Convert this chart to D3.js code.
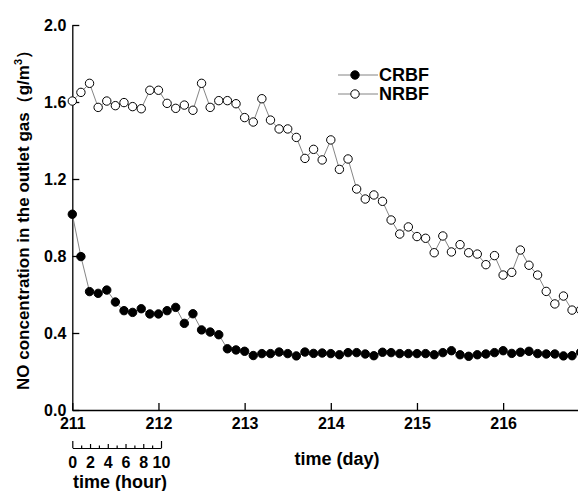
<!DOCTYPE html>
<html>
<head>
<meta charset="utf-8">
<script src="https://cdn.jsdelivr.net/npm/d3@7"></script>
<style>
  html, body { margin: 0; padding: 0; background: #fff; overflow: hidden; }
  svg text { font-family: "Liberation Sans", Arial, sans-serif; font-weight: bold; fill: #000; }
</style>
</head>
<body>
<svg id="chart"></svg>
<script>
// sampling times (day), one point every 0.1 day
const time = [
  211.0, 211.1, 211.2, 211.3, 211.4, 211.5, 211.6, 211.7, 211.8, 211.9,
  212.0, 212.1, 212.2, 212.3, 212.4, 212.5, 212.6, 212.7, 212.8, 212.9,
  213.0, 213.1, 213.2, 213.3, 213.4, 213.5, 213.6, 213.7, 213.8, 213.9,
  214.0, 214.1, 214.2, 214.3, 214.4, 214.5, 214.6, 214.7, 214.8, 214.9,
  215.0, 215.1, 215.2, 215.3, 215.4, 215.5, 215.6, 215.7, 215.8, 215.9,
  216.0, 216.1, 216.2, 216.3, 216.4, 216.5, 216.6, 216.7, 216.8, 216.9
];

const crbf = [
  1.017, 0.797, 0.615, 0.606, 0.623, 0.561, 0.516, 0.507, 0.526, 0.499,
  0.499, 0.516, 0.533, 0.450, 0.500, 0.416, 0.405, 0.391, 0.318, 0.312,
  0.305, 0.283, 0.293, 0.293, 0.301, 0.293, 0.281, 0.301, 0.294, 0.296,
  0.293, 0.287, 0.298, 0.298, 0.291, 0.282, 0.300, 0.298, 0.293, 0.293,
  0.293, 0.293, 0.287, 0.298, 0.308, 0.287, 0.279, 0.287, 0.291, 0.298,
  0.308, 0.294, 0.300, 0.305, 0.293, 0.291, 0.291, 0.281, 0.282, 0.300
];

const nrbf = [
  1.605, 1.650, 1.697, 1.572, 1.605, 1.581, 1.597, 1.576, 1.565, 1.661,
  1.661, 1.593, 1.567, 1.584, 1.557, 1.697, 1.572, 1.607, 1.607, 1.591,
  1.519, 1.496, 1.617, 1.506, 1.460, 1.460, 1.416, 1.307, 1.354, 1.299,
  1.403, 1.250, 1.304, 1.148, 1.096, 1.117, 1.084, 0.987, 0.914, 0.951,
  0.901, 0.892, 0.817, 0.904, 0.821, 0.859, 0.817, 0.810, 0.755, 0.802,
  0.701, 0.715, 0.831, 0.752, 0.701, 0.616, 0.551, 0.592, 0.519, 0.520
];

const dayTicks = [211, 212, 213, 214, 215, 216];
const yTicks = [0.0, 0.4, 0.8, 1.2, 1.6, 2.0];
const hourTicks = [0, 1, 2, 3, 4, 5, 6, 7, 8, 9, 10];

const width = 578, height = 491;

const svg = d3.select('#chart')
  .attr('width', width)
  .attr('height', height);

// Scales
const x = d3.scaleLinear().domain([211, 217]).range([72.3, 589.3]);
const y = d3.scaleLinear().domain([0, 2]).range([410, 25]);
const xHour = d3.scaleLinear().domain([0, 10]).range([72.3, 161]);

// Y axis (ticks pointing inward)
const yAxis = svg.append('g')
  .attr('transform', `translate(${x(211)},0)`)
  .call(d3.axisLeft(y).tickValues(yTicks).tickFormat(d3.format('.1f'))
    .tickSizeInner(-7).tickSizeOuter(0).tickPadding(6));

// X axis (day)
const xAxis = svg.append('g')
  .attr('transform', `translate(0,${y(0)})`)
  .call(d3.axisBottom(x).tickValues(dayTicks).tickFormat(d3.format('d'))
    .tickSizeInner(-7).tickSizeOuter(0).tickPadding(8));

[yAxis, xAxis].forEach(g => {
  g.select('.domain').attr('stroke', '#000').attr('stroke-width', 1.3);
  g.selectAll('.tick line').attr('stroke', '#000').attr('stroke-width', 1.3);
  g.selectAll('text').style('font-size', '16px');
});

// Secondary axis (hour)
const hourAxis = svg.append('g')
  .attr('transform', 'translate(0,448)')
  .call(d3.axisBottom(xHour).tickValues(hourTicks)
    .tickFormat(d => d % 2 === 0 ? d : '')
    .tickSizeInner(-3).tickSizeOuter(0).tickPadding(9));

hourAxis.select('.domain').attr('stroke', '#000').attr('stroke-width', 1.2);
hourAxis.selectAll('.tick line')
  .attr('stroke', '#000')
  .attr('stroke-width', 1.2)
  .attr('y2', d => (d === 0 || d === 10) ? -7 : (d % 2 === 0 ? -4 : -2.5));
hourAxis.selectAll('text').style('font-size', '16px');

// Axis titles
svg.append('text')
  .attr('x', 337)
  .attr('y', 465)
  .attr('text-anchor', 'middle')
  .style('font-size', '18px')
  .text('time (day)');

svg.append('text')
  .attr('x', 120)
  .attr('y', 488)
  .attr('text-anchor', 'middle')
  .style('font-size', '18px')
  .text('time (hour)');

const yLabel = svg.append('text')
  .attr('transform', 'rotate(-90)')
  .attr('x', -216)
  .attr('y', 29)
  .attr('text-anchor', 'middle')
  .style('font-size', '17px');
yLabel.append('tspan').text('NO concentration in the outlet gas（g/m');
yLabel.append('tspan').attr('dy', -7).style('font-size', '11px').text('3');
yLabel.append('tspan').attr('dy', 7).text('）');

// Series
const series = [
  { name: 'CRBF', values: crbf, fill: '#000' },
  { name: 'NRBF', values: nrbf, fill: '#fff' }
];

const line = d3.line()
  .x((d, i) => x(time[i]))
  .y(d => y(d));

series.forEach(s => {
  svg.append('path')
    .datum(s.values)
    .attr('fill', 'none')
    .attr('stroke', '#777')
    .attr('stroke-width', 0.9)
    .attr('d', line);

  svg.append('g')
    .selectAll('circle')
    .data(s.values)
    .enter()
    .append('circle')
      .attr('cx', (d, i) => x(time[i]))
      .attr('cy', d => y(d))
      .attr('r', 4.2)
      .attr('fill', s.fill)
      .attr('stroke', '#000')
      .attr('stroke-width', 1);
});

// Legend
const legend = svg.append('g');
series.forEach((s, i) => {
  const ly = 75 + i * 19;
  legend.append('line')
    .attr('x1', 338).attr('x2', 378)
    .attr('y1', ly).attr('y2', ly)
    .attr('stroke', '#777')
    .attr('stroke-width', 0.9);
  legend.append('circle')
    .attr('cx', 355).attr('cy', ly)
    .attr('r', 4.2)
    .attr('fill', s.fill)
    .attr('stroke', '#000');
  legend.append('text')
    .attr('x', 379)
    .attr('y', ly + 6)
    .style('font-size', '18px')
    .text(s.name);
});
</script>
</body>
</html>
